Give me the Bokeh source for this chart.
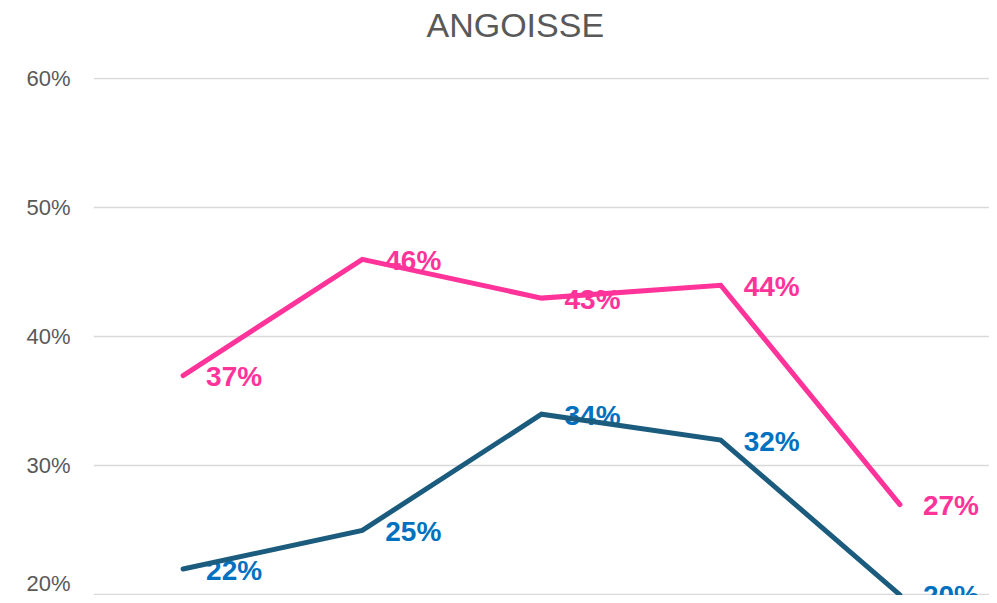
from bokeh.plotting import figure
from bokeh.models import ColumnDataSource, LabelSet, FactorRange, Range1d, FixedTicker, PrintfTickFormatter
from bokeh.core.properties import value
from bokeh.embed import file_html
from bokeh.resources import INLINE

title_text = "ANGOISSE"
categories = ["Cat 1", "Cat 2", "Cat 3", "Cat 4", "Cat 5"]
series_pink = [37, 46, 43, 44, 27]
series_blue = [22, 25, 34, 32, 20]
y_ticks = [20, 30, 40, 50, 60]

FONT = "Liberation Sans"

p = figure(width=989, height=595, output_backend="svg", toolbar_location=None,
           x_range=FactorRange(factors=categories), y_range=Range1d(19.95, 60.1),
           min_border_left=93, min_border_right=0, min_border_top=77, min_border_bottom=0)
p.outline_line_color = None
p.background_fill_color = "white"
p.border_fill_color = "white"

p.title.text = title_text
p.title.align = "left"
p.title.offset = 333
p.title.vertical_align = "top"
p.title.standoff = 0
p.title.padding = dict(left=0, right=0, top=0, bottom=32)
p.title.text_font = FONT
p.title.text_font_size = "34px"
p.title.text_font_style = "normal"
p.title.text_color = "#595959"

p.xaxis.visible = False
p.xgrid.grid_line_color = None
p.ygrid.grid_line_color = "#D9D9D9"
p.ygrid.grid_line_width = 1.5
p.yaxis.ticker = FixedTicker(ticks=y_ticks)
p.yaxis.formatter = PrintfTickFormatter(format="%d%%")
p.yaxis.axis_line_color = None
p.yaxis.major_tick_line_color = None
p.yaxis.major_tick_out = 0
p.yaxis.major_tick_in = 0
p.yaxis.minor_tick_line_color = None
p.yaxis.major_label_text_font = FONT
p.yaxis.major_label_text_font_size = "22px"
p.yaxis.major_label_text_color = "#595959"
p.yaxis.major_label_standoff = 23

for vals, line_color, label_color in [(series_pink, "#FF3399", "#FF3399"),
                                      (series_blue, "#1B5C7E", "#0070C0")]:
    src = ColumnDataSource(dict(x=categories, y=vals, t=[f"{v}%" for v in vals]))
    p.add_layout(LabelSet(x="x", y="y", text="t", source=src, x_offset=23, y_offset=-1,
                          text_baseline="middle", text_align="left", text_font=value(FONT),
                          text_font_size=value("28px"), text_font_style="bold", text_color=label_color,
                          level="underlay"))
    p.line("x", "y", source=src, line_color=line_color, line_width=5, line_cap="round", line_join="miter")

open("out.html", "w").write(file_html(p, INLINE))
